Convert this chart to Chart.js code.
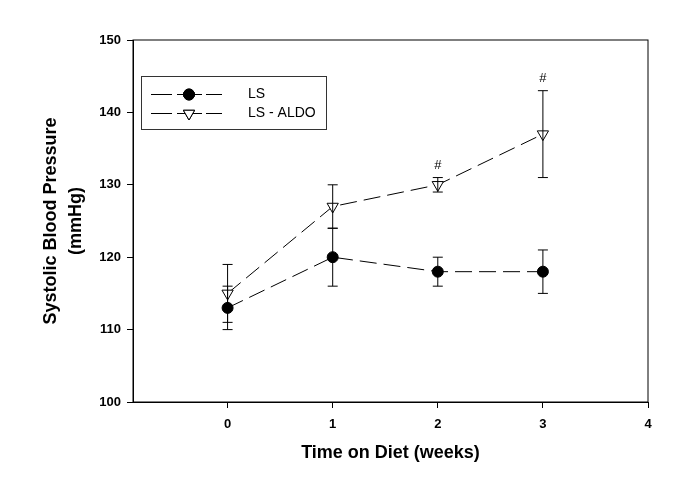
<!DOCTYPE html>
<html lang="en">
<head>
  <meta charset="UTF-8">
  <title>Systolic Blood Pressure</title>
  <script src="https://cdn.jsdelivr.net/npm/chart.js"></script>
  <style>
    body { margin: 0; background: #fff; }
    .wrap { width: 685px; height: 493px; }
  </style>
</head>
<body>
  <div class="wrap"><canvas id="bpChart" width="685" height="493"></canvas></div>

  <script>
    // data
    const weeks = [0, 1, 2, 3];
    const lsMean = [113, 120, 118, 118];
    const lsErr = [3, 4, 2, 3];
    const aldoMean = [115, 127, 130, 137];
    const aldoErr = [4, 3, 1, 6];
    const aldoMarks = ["", "", "#", "#"];
    const xTicks = [0, 1, 2, 3, 4];
    const yTicks = [100, 110, 120, 130, 140, 150];

    const FONT = "'Liberation Sans', Arial, sans-serif";

    // error bars + significance marks
    const errorBars = {
      id: "errorBars",
      afterDatasetsDraw(chart) {
        const { ctx, scales: { x, y } } = chart;
        ctx.save();
        ctx.strokeStyle = "#000";
        ctx.lineWidth = 1;
        chart.data.datasets.forEach(ds => {
          ds.data.forEach((p, i) => {
            const px = x.getPixelForValue(p.x);
            const top = y.getPixelForValue(p.y + ds.err[i]);
            const bot = y.getPixelForValue(p.y - ds.err[i]);
            ctx.beginPath();
            ctx.moveTo(px, top); ctx.lineTo(px, bot);
            ctx.moveTo(px - 5, top); ctx.lineTo(px + 5, top);
            ctx.moveTo(px - 5, bot); ctx.lineTo(px + 5, bot);
            ctx.stroke();
            if (ds.marks && ds.marks[i]) {
              ctx.fillStyle = "#000";
              ctx.font = "13px " + FONT;
              ctx.textAlign = "center";
              ctx.textBaseline = "middle";
              ctx.fillText(ds.marks[i], px, top - 12);
            }
          });
        });
        ctx.restore();
      }
    };

    // frame round the plot and the boxed legend
    const frameLegend = {
      id: "frameLegend",
      afterDraw(chart) {
        const { ctx, chartArea: a } = chart;
        ctx.save();
        ctx.strokeStyle = "#000";
        ctx.lineWidth = 1;
        ctx.strokeRect(a.left, a.top, a.right - a.left, a.bottom - a.top);

        ctx.strokeStyle = "#333";
        ctx.strokeRect(141.5, 76.5, 185, 53);
        chart.data.datasets.forEach((ds, i) => {
          const ly = 94.5 + i * 19;
          ctx.strokeStyle = "#000";
          ctx.setLineDash([]);
          ctx.beginPath();
          ctx.moveTo(151, ly); ctx.lineTo(172, ly);
          ctx.moveTo(177, ly); ctx.lineTo(202, ly);
          ctx.moveTo(206, ly); ctx.lineTo(222, ly);
          ctx.stroke();
          Chart.helpers.drawPoint(ctx, {
            pointStyle: ds.pointStyle,
            radius: ds.pointRadius,
            rotation: ds.pointRotation || 0,
            borderWidth: 1
          }, 189, ly);
          ctx.fillStyle = ds.pointBackgroundColor;
          ctx.strokeStyle = "#000";
          ctx.fill();
          ctx.stroke();
          ctx.fillStyle = "#000";
          ctx.font = "14px " + FONT;
          ctx.textAlign = "left";
          ctx.textBaseline = "middle";
          ctx.fillText(ds.label, 248, ly);
        });
        ctx.restore();
      }
    };

    const toPts = arr => weeks.map((w, i) => ({ x: w, y: arr[i] }));

    new Chart(document.getElementById("bpChart"), {
      type: "line",
      data: {
        datasets: [
          {
            label: "LS",
            data: toPts(lsMean),
            err: lsErr,
            borderColor: "#000",
            borderWidth: 1,
            borderDash: [17, 7],
            pointStyle: "circle",
            pointRadius: 5.5,
            pointBackgroundColor: "#000",
            pointBorderColor: "#000",
            tension: 0
          },
          {
            label: "LS - ALDO",
            data: toPts(aldoMean),
            err: aldoErr,
            marks: aldoMarks,
            borderColor: "#000",
            borderWidth: 1,
            borderDash: [17, 7],
            pointStyle: "triangle",
            pointRotation: 180,
            pointRadius: 6.5,
            pointBackgroundColor: "#fff",
            pointBorderColor: "#000",
            pointBorderWidth: 1,
            tension: 0
          }
        ]
      },
      options: {
        responsive: false,
        animation: false,
        layout: { padding: { top: 40, right: 37, left: 0, bottom: 0 } },
        plugins: { legend: { display: false }, tooltip: { enabled: false } },
        scales: {
          x: {
            type: "linear",
            min: -0.9,
            max: 4,
            afterBuildTicks: s => { s.ticks = xTicks.map(v => ({ value: v })); },
            afterFit: s => { s.height = 91; },
            grid: { drawOnChartArea: false, color: "#000", tickLength: 6 },
            border: { color: "#000" },
            ticks: { color: "#000", font: { family: FONT, size: 13, weight: "bold" }, padding: 9, maxRotation: 0 },
            title: {
              display: true,
              text: "Time on Diet (weeks)",
              color: "#000",
              font: { family: FONT, size: 18, weight: "bold" },
              padding: { top: 0, bottom: 29 }
            }
          },
          y: {
            min: 100,
            max: 150,
            afterBuildTicks: s => { s.ticks = yTicks.map(v => ({ value: v })); },
            afterFit: s => { s.width = 133; },
            grid: { drawOnChartArea: false, color: "#000", tickLength: 6 },
            border: { color: "#000" },
            ticks: { color: "#000", font: { family: FONT, size: 13, weight: "bold" }, padding: 6 },
            title: {
              display: true,
              text: ["Systolic Blood Pressure", "(mmHg)"],
              color: "#000",
              font: { family: FONT, size: 18, weight: "bold", lineHeight: 1.4 },
              padding: { top: 38, bottom: 0 }
            }
          }
        }
      },
      plugins: [errorBars, frameLegend]
    });
  </script>
</body>
</html>
